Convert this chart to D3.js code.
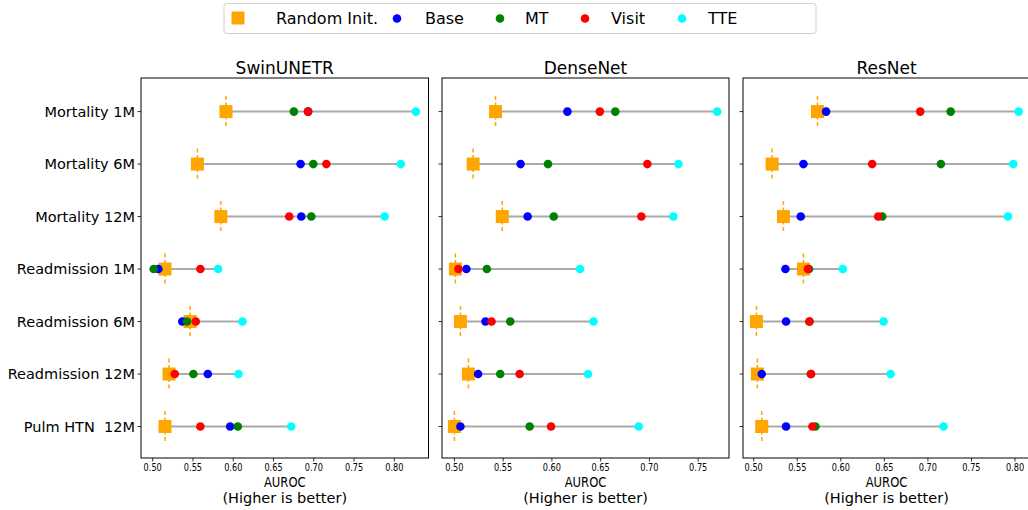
<!DOCTYPE html>
<html>
<head>
<meta charset="utf-8">
<script src="https://cdn.jsdelivr.net/npm/d3@7"></script>
<style>
  html, body { margin: 0; padding: 0; background: #fff; }
  svg { display: block; font-family: "DejaVu Sans", sans-serif; }
</style>
</head>
<body>
<svg id="chart" width="1028" height="510"></svg>
<script>
// ---------- data ----------
const tasks = ["Mortality 1M", "Mortality 6M", "Mortality 12M", "Readmission 1M", "Readmission 6M", "Readmission 12M", "Pulm HTN  12M"];
const models = ["SwinUNETR", "DenseNet", "ResNet"];
const methods = ["Random Init.", "Base", "MT", "Visit", "TTE"];
const methodColors = ["#FFA500", "#0000FF", "#008000", "#FF0000", "#00FFFF"];
const xTicks = [0.50, 0.55, 0.60, 0.65, 0.70, 0.75, 0.80];

// values per model: rows = tasks, per method
const swinRandom = [0.591, 0.5555, 0.5846, 0.5153, 0.5464, 0.5203, 0.5153];
const swinBase   = [0.6930, 0.6836, 0.6845, 0.5070, 0.5368, 0.5684, 0.5962];
const swinMT     = [0.6753, 0.6994, 0.6969, 0.5012, 0.5427, 0.5505, 0.6057];
const swinVisit  = [0.6928, 0.7156, 0.6695, 0.5592, 0.5535, 0.5274, 0.5592];
const swinTTE    = [0.8267, 0.8080, 0.7880, 0.5812, 0.6115, 0.6065, 0.6720];

const denseRandom = [0.5422, 0.5192, 0.5491, 0.5010, 0.5062, 0.5144, 0.5000];
const denseBase   = [0.6159, 0.5679, 0.5751, 0.5123, 0.5319, 0.5243, 0.5062];
const denseMT     = [0.6650, 0.5960, 0.6019, 0.5333, 0.5573, 0.5470, 0.5772];
const denseVisit  = [0.6492, 0.6979, 0.6917, 0.5041, 0.5381, 0.5669, 0.5991];
const denseTTE    = [0.7695, 0.7298, 0.7246, 0.6289, 0.6427, 0.6370, 0.6890];

const resRandom = [0.5732, 0.5211, 0.5341, 0.5571, 0.5031, 0.5042, 0.5092];
const resBase   = [0.5831, 0.5571, 0.5540, 0.5364, 0.5371, 0.5092, 0.5371];
const resMT     = [0.7261, 0.7149, 0.6475, 0.5636, 0.5640, 0.5655, 0.5709];
const resVisit  = [0.6912, 0.6360, 0.6429, 0.5621, 0.5640, 0.5659, 0.5674];
const resTTE    = [0.8042, 0.7980, 0.7920, 0.6023, 0.6491, 0.6571, 0.7180];

const xDomains = [[0.4855, 0.8424], [0.4873, 0.7816], [0.4877, 0.8172]];

const panelData = [
  [swinRandom, swinBase, swinMT, swinVisit, swinTTE],
  [denseRandom, denseBase, denseMT, denseVisit, denseTTE],
  [resRandom, resBase, resMT, resVisit, resTTE]
];

// ---------- layout ----------
const svg = d3.select("#chart");
const panels = [
  {left: 141, right: 428.5},
  {left: 442, right: 729},
  {left: 743, right: 1030}
];
const plotTop = 78, plotBottom = 458;

const y = d3.scaleLinear().domain([-0.64, 6.6]).range([plotTop, plotBottom]);

panels.forEach((p, pi) => {
  const dom = xDomains[pi];
  const x = d3.scaleLinear().domain(dom).range([p.left, p.right]);
  const g = svg.append("g");
  const vals = panelData[pi];

  // range lines
  tasks.forEach((t, ti) => {
    const rowVals = vals.map(s => s[ti]);
    g.append("line")
      .attr("x1", x(d3.min(rowVals))).attr("x2", x(d3.max(rowVals)))
      .attr("y1", y(ti)).attr("y2", y(ti))
      .attr("stroke", "#aaaaaa").attr("stroke-width", 2);
  });

  // random init dashed vertical line + square
  tasks.forEach((t, ti) => {
    const v = vals[0][ti];
    g.append("line")
      .attr("x1", x(v)).attr("x2", x(v))
      .attr("y1", y(ti) - 15.5).attr("y2", y(ti) + 15.5)
      .attr("stroke", methodColors[0]).attr("stroke-width", 1.5)
      .attr("stroke-dasharray", "4,2.5");
    g.append("rect")
      .attr("x", x(v) - 6.5).attr("y", y(ti) - 6.5)
      .attr("width", 13).attr("height", 13)
      .attr("fill", methodColors[0]);
  });

  // circles for other methods
  for (let mi = 1; mi < methods.length; mi++) {
    g.selectAll(null).data(vals[mi]).enter().append("circle")
      .attr("cx", d => x(d)).attr("cy", (d, i) => y(i))
      .attr("r", 4.3).attr("fill", methodColors[mi]);
  }

  // frame
  g.append("rect")
    .attr("x", p.left).attr("y", plotTop)
    .attr("width", p.right - p.left).attr("height", plotBottom - plotTop)
    .attr("fill", "none").attr("stroke", "#000").attr("stroke-width", 1);

  // x axis ticks
  xTicks.forEach(tv => {
    if (tv < dom[0] || tv > dom[1] || x(tv) > 1028) return;
    g.append("line").attr("x1", x(tv)).attr("x2", x(tv))
      .attr("y1", plotBottom).attr("y2", plotBottom + 3.5)
      .attr("stroke", "#000").attr("stroke-width", 0.8);
    g.append("text")
      .attr("transform", `translate(${x(tv)},${plotBottom + 13}) scale(0.82,1)`)
      .attr("text-anchor", "middle")
      .attr("font-size", 10).attr("fill", "#000")
      .text(d3.format(".2f")(tv));
  });

  // y ticks
  tasks.forEach((t, ti) => {
    g.append("line").attr("x1", p.left - 3.5).attr("x2", p.left)
      .attr("y1", y(ti)).attr("y2", y(ti))
      .attr("stroke", "#000").attr("stroke-width", 0.8);
    if (pi === 0) {
      g.append("text")
        .attr("x", p.left - 6).attr("y", y(ti) + 5)
        .attr("text-anchor", "end").attr("font-size", 14.5).attr("fill", "#000")
        .style("white-space", "pre")
        .text(t);
    }
  });

  // title
  const cx = (p.left + p.right) / 2;
  g.append("text").attr("x", cx).attr("y", 74)
    .attr("text-anchor", "middle").attr("font-size", 17).attr("fill", "#000")
    .text(models[pi]);

  // x label
  g.append("text")
    .attr("transform", `translate(${cx},${487}) scale(0.8,1)`)
    .attr("text-anchor", "middle").attr("font-size", 14.5).attr("fill", "#000")
    .text("AUROC");
  g.append("text").attr("x", cx).attr("y", 503)
    .attr("text-anchor", "middle").attr("font-size", 14.5).attr("fill", "#000")
    .text("(Higher is better)");
});

// ---------- legend ----------
const legend = svg.append("g");
legend.append("rect")
  .attr("x", 224).attr("y", 3.5).attr("width", 592).attr("height", 30)
  .attr("rx", 3).attr("fill", "#fff").attr("stroke", "#d0d0d0").attr("stroke-width", 1);
const legMarkX = [238, 397, 500, 585, 682];
const legTextX = [276, 425, 525, 611, 708];
methods.forEach((m, i) => {
  if (i === 0) {
    legend.append("rect").attr("x", legMarkX[i] - 6.5).attr("y", 18 - 6.5)
      .attr("width", 13).attr("height", 13).attr("fill", methodColors[i]);
  } else {
    legend.append("circle").attr("cx", legMarkX[i]).attr("cy", 18.5)
      .attr("r", 4.3).attr("fill", methodColors[i]);
  }
  legend.append("text").attr("x", legTextX[i]).attr("y", 24)
    .attr("font-size", 16).attr("fill", "#000").text(m);
});
</script>
</body>
</html>
